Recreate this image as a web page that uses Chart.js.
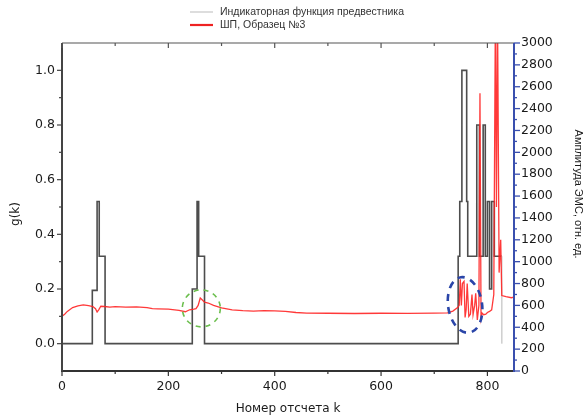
<!DOCTYPE html>
<html><head><meta charset="utf-8">
<script src="https://cdn.jsdelivr.net/npm/chart.js@4.4.1/dist/chart.umd.min.js"></script>
<style>html,body{margin:0;padding:0;background:#fff;}#wrap{width:585px;height:419px;}</style>
</head><body><div id="wrap"><canvas id="c" width="585" height="419"></canvas></div>
<script>
// ---- data ----
// indicator function g(k): step points (value becomes gVal at gK)
const gK   = [0, 57, 66, 70, 81, 245, 254, 257, 268, 745, 748, 752, 761, 763, 780, 785, 792, 796, 800, 804, 808, 813, 827, 827];
const gVal = [0, 0.195, 0.52, 0.32, 0, 0.2, 0.52, 0.32, 0, 0.32, 0.52, 1.0, 0.52, 0.32, 0.8, 0.32, 0.8, 0.32, 0.52, 0.2, 0.52, 0.32, 0.32, 0];
// EMS amplitude (right axis)
const emsK = [0,5,10,20,30,40,50,58,63,66,69,73,80,90,100,120,140,160,170,180,200,220,232,240,248,252,256,260,264,268,275,285,300,320,340,360,380,400,420,440,460,500,550,600,650,700,725,735,744,747,749,751,753,756,758,760,762,765,768,771,773,776,778,781,784,786,788,790,793,797,800,804,808,812,815,817,819,822,825,827,835,845,850];
const emsVal = [500,520,545,580,595,605,598,590,570,540,560,592,590,585,588,584,586,580,570,568,566,555,542,560,565,570,600,668,650,630,622,600,578,560,552,548,552,550,545,535,530,528,526,528,527,530,532,548,580,600,840,600,800,820,490,560,800,500,520,700,515,600,710,466,600,2540,482,530,515,520,535,545,560,700,3300,1500,3300,900,1200,690,680,670,675];
// axis ticks
const xMajorStep = 200, xStep = 100;
const yMajorStep = 0.2, yStep = 0.1;
const y2MajorStep = 200, y2Step = 100;
// annotation marks (centres in data units: k, right-axis value)
const markK = [262, 758];
const markV = [573, 604];

const labels = ['Индикаторная функция предвестника', 'ШП, Образец №3'];
const titleX = 'Номер отсчета k';
const titleY = 'g(k)';
const titleY2 = 'Амплитуда ЭМС, отн. ед.';

const numFont = {family: 'DejaVu Sans', size: 12.5};

const decor = {
  id: 'decor',
  afterDraw(chart) {
    const {ctx, chartArea: a, scales: {x, y, y2}} = chart;
    ctx.save();
    const ln = (x1, y1, x2, y2c, col, w) => {
      ctx.beginPath(); ctx.strokeStyle = col; ctx.lineWidth = w;
      ctx.moveTo(x1, y1); ctx.lineTo(x2, y2c); ctx.stroke();
    };
    // marks
    const styles = [
      {c: '#6cbf4e', w: 1.6, d: [5, 5], rx: 19, ry: 18.5, r: 0},
      {c: '#2a45a8', w: 2.6, d: [7, 6], rx: 17, ry: 28, r: -0.15}
    ];
    markK.forEach((k, i) => {
      const s = styles[i];
      ctx.beginPath(); ctx.setLineDash(s.d); ctx.strokeStyle = s.c; ctx.lineWidth = s.w;
      ctx.ellipse(x.getPixelForValue(k), y2.getPixelForValue(markV[i]), s.rx, s.ry, s.r, 0, Math.PI * 2);
      ctx.stroke();
    });
    ctx.setLineDash([]);
    // frame
    ln(a.left, a.top, a.right, a.top, '#555', 1.2);
    ln(a.left, a.bottom, a.right, a.bottom, '#333', 2);
    ln(a.left, a.top, a.left, a.bottom + 1, '#444', 2);
    ln(a.right, a.top, a.right, a.bottom + 1, '#3a4fae', 2);
    // x ticks (bottom outward, top inward)
    x.ticks.forEach(t => {
      const px = x.getPixelForValue(t.value);
      const L = (t.value % xMajorStep === 0) ? 5 : 3;
      ln(px, a.bottom, px, a.bottom + L, '#333', 1.2);
      ln(px, a.top, px, a.top + L, '#555', 1.2);
    });
    y.ticks.forEach(t => {
      const py = y.getPixelForValue(t.value);
      const m = Math.round(t.value * 10);
      const L = (m % 2 === 0) ? 5 : 3;
      if (m < 0 || m > 10) return;
      ln(a.left - L, py, a.left, py, '#444', 1.2);
    });
    y2.ticks.forEach(t => {
      const py = y2.getPixelForValue(t.value);
      const L = (t.value % y2MajorStep === 0) ? 6 : 3;
      ln(a.right, py, a.right + L, py, '#3a4fae', 1.3);
    });
    // legend
    ctx.font = '10.5px "Liberation Sans", Arial, sans-serif';
    ctx.textBaseline = 'middle'; ctx.textAlign = 'left';
    const lx = 190, ly = [12, 25];
    chart.data.datasets.forEach((ds, i) => {
      ln(lx, ly[i], lx + 23, ly[i], ds.legendColor, ds.legendWidth);
      ctx.fillStyle = '#333';
      ctx.fillText(labels[i], lx + 30, ly[i]);
    });
    // axis titles
    ctx.fillStyle = '#1a1a1a';
    ctx.font = '12px "DejaVu Sans", sans-serif';
    ctx.textAlign = 'center';
    ctx.fillText(titleX, (a.left + a.right) / 2, 409);
    ctx.save(); ctx.translate(16, 214); ctx.rotate(-Math.PI / 2);
    ctx.fillText(titleY, 0, 0); ctx.restore();
    ctx.font = '11px "Liberation Sans", Arial, sans-serif';
    ctx.save(); ctx.translate(578, 194); ctx.rotate(Math.PI / 2);
    ctx.fillText(titleY2, 0, 0); ctx.restore();
    ctx.restore();
  }
};

new Chart(document.getElementById('c'), {
  type: 'line',
  data: {
    datasets: [
      {
        data: gK.map((k, i) => ({x: k, y: gVal[i]})),
        yAxisID: 'y', stepped: 'before', order: 1,
        borderColor: '#4d4d4d', borderWidth: 1.6, pointRadius: 0,
        legendColor: '#d2d2d2', legendWidth: 1.5,
        segment: {borderColor: c => (c.p0.parsed.x === c.p1.parsed.x && c.p1.parsed.y === 0) ? '#d0d0d0' : undefined}
      },
      {
        data: emsK.map((k, i) => ({x: k, y: emsVal[i]})),
        yAxisID: 'y2', order: 0,
        borderColor: 'rgba(255,35,35,0.9)', borderWidth: 1.3, pointRadius: 0, tension: 0,
        legendColor: '#ee2222', legendWidth: 2.2
      }
    ]
  },
  options: {
    responsive: false, animation: false,
    layout: {padding: {top: 43, left: 0, right: 0, bottom: 0}},
    plugins: {legend: {display: false}, tooltip: {enabled: false}},
    scales: {
      x: {
        type: 'linear', position: 'bottom', min: 0, max: 850,
        grid: {display: false, drawTicks: false}, border: {display: false},
        ticks: {stepSize: xStep, includeBounds: false, autoSkip: false, maxRotation: 0,
          callback: v => (v % xMajorStep === 0 ? String(v) : ''), font: numFont, color: '#1a1a1a', padding: 8},
        afterFit: s => { s.height = 48; }
      },
      y: {
        type: 'linear', position: 'left', min: -0.1, max: 1.1,
        grid: {display: false, drawTicks: false}, border: {display: false},
        ticks: {stepSize: yStep, autoSkip: false, font: numFont, color: '#1a1a1a', padding: 7,
          callback: v => { const m = Math.round(v * 10); return (m >= 0 && m <= 10 && m % 2 === 0) ? (m / 10).toFixed(1) : ''; }},
        afterFit: s => { s.width = 62; }
      },
      y2: {
        type: 'linear', position: 'right', min: 0, max: 3000,
        grid: {display: false, drawTicks: false}, border: {display: false},
        ticks: {stepSize: y2Step, autoSkip: false, font: numFont, color: '#1a1a1a', padding: 7,
          callback: v => (v % y2MajorStep === 0 ? String(v) : '')},
        afterFit: s => { s.width = 71; }
      }
    }
  },
  plugins: [decor]
});
</script></body></html>
